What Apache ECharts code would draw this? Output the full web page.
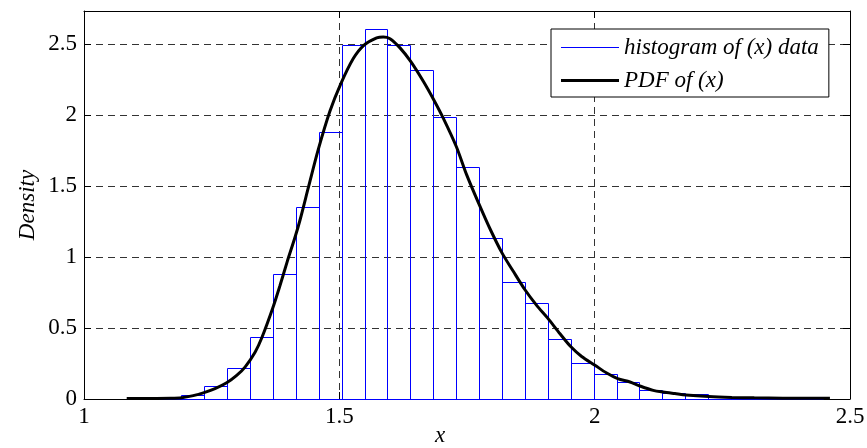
<!DOCTYPE html>
<html><head><meta charset="utf-8">
<script src="https://cdn.jsdelivr.net/npm/echarts@6/dist/echarts.min.js"></script>
<style>html,body{margin:0;padding:0;background:#fff}#c{width:867px;height:448px}</style>
</head><body><div id="c"></div>
<script>
// histogram bin edges (x) and densities
const binEdges = [1.1006, 1.1454, 1.1903, 1.2352, 1.2800, 1.3249, 1.3698, 1.4147, 1.4595, 1.5044,
  1.5493, 1.5941, 1.6390, 1.6839, 1.7287, 1.7736, 1.8185, 1.8634, 1.9082, 1.9531,
  1.9980, 2.0428, 2.0877, 2.1326, 2.1775, 2.2223, 2.2672, 2.3121, 2.3569, 2.4018, 2.4467];
const binHeights = [0, 0.004, 0.03, 0.09, 0.218, 0.435, 0.878, 1.355, 1.884, 2.498,
  2.605, 2.498, 2.316, 1.986, 1.637, 1.136, 0.826, 0.677, 0.426, 0.257,
  0.176, 0.117, 0.061, 0.04, 0.032, 0.019, 0.017, 0.01, 0.005, 0.004];
// estimated PDF curve
const pdfX = [1.0836, 1.1292, 1.1700, 1.1913, 1.2140, 1.2336, 1.2565, 1.2794, 1.2990, 1.3153,
  1.3350, 1.3480, 1.3695, 1.3838, 1.3981, 1.4132, 1.4229, 1.4400, 1.4588, 1.4817,
  1.5026, 1.5273, 1.5469, 1.5731, 1.5861, 1.5992, 1.6188, 1.6397, 1.6644, 1.6848,
  1.7035, 1.7290, 1.7494, 1.7740, 1.7950, 1.8185, 1.8406, 1.8635, 1.8864, 1.9080,
  1.9321, 1.9530, 1.9745, 2.0006, 2.0235, 2.0450, 2.0691, 2.0901, 2.1147, 2.1343,
  2.1572, 2.1788, 2.2232, 2.2683, 2.3125, 2.3687, 2.4607];
const pdfY = [0.004, 0.004, 0.005, 0.009, 0.024, 0.043, 0.073, 0.114, 0.166, 0.225,
  0.33, 0.43, 0.64, 0.80, 0.97, 1.14, 1.26, 1.50, 1.76, 2.03,
  2.22, 2.40, 2.49, 2.545, 2.552, 2.54, 2.475, 2.38, 2.24, 2.11,
  1.98, 1.78, 1.58, 1.37, 1.20, 1.03, 0.90, 0.77, 0.66, 0.57,
  0.46, 0.37, 0.30, 0.238, 0.183, 0.144, 0.12, 0.09, 0.061, 0.049,
  0.038, 0.028, 0.017, 0.011, 0.008, 0.006, 0.005];
const xRange = [1, 2.5];
const yRange = [0, 2.735];
const tickStep = 0.5;
const histName = 'histogram of (x) data';
const pdfName = 'PDF of (x)';

const FONT = 'Liberation Serif';
const FS = 23;
const histData = binHeights.map((h, i) => [binEdges[i], binEdges[i + 1], h]);
const pdfData = pdfX.map((x, i) => [x, pdfY[i]]);
const dashed = { type: [7, 5], color: '#333', width: 1 };
const tickIn = { show: true, inside: true, length: 7, lineStyle: { color: '#000' } };
const axisLine = { show: true, onZero: false, lineStyle: { color: '#000', width: 1 } };
const labelStyle = { fontFamily: FONT, fontSize: FS, color: '#000' };
const italic = { fontFamily: FONT, fontStyle: 'italic', fontSize: FS, color: '#000' };

const chart = echarts.init(document.getElementById('c'), null, { renderer: 'canvas' });
chart.setOption({
  backgroundColor: '#fff',
  animation: false,
  grid: { left: 84, right: 17, top: 11, bottom: 49, containLabel: false, outerBoundsMode: 'none' },
  xAxis: [{
    type: 'value', min: xRange[0], max: xRange[1], interval: tickStep, position: 'bottom',
    axisLine, axisTick: tickIn,
    axisLabel: Object.assign({ margin: 6 }, labelStyle),
    splitLine: { show: true, lineStyle: dashed },
    name: 'x', nameLocation: 'middle', nameGap: 25, nameMoveOverlap: false,
    nameTextStyle: Object.assign({ padding: [0, 54, 0, 0] }, italic)
  }, {
    type: 'value', min: xRange[0], max: xRange[1], interval: tickStep, position: 'top',
    axisLine, axisTick: tickIn, axisLabel: { show: false }, splitLine: { show: false }
  }],
  yAxis: [{
    type: 'value', min: yRange[0], max: yRange[1], interval: tickStep, position: 'left',
    axisLine, axisTick: tickIn,
    axisLabel: Object.assign({ margin: 7, showMaxLabel: false }, labelStyle),
    splitLine: { show: true, lineStyle: dashed },
    name: 'Density', nameLocation: 'middle', nameGap: 45, nameMoveOverlap: false,
    nameTextStyle: italic
  }, {
    type: 'value', min: yRange[0], max: yRange[1], interval: tickStep, position: 'right',
    axisLine, axisTick: tickIn, axisLabel: { show: false }, splitLine: { show: false }
  }],
  legend: [{
    data: [{ name: histName, icon: 'rect' }],
    left: 551, top: 29, orient: 'vertical', selectedMode: false,
    itemWidth: 58, itemHeight: 1,
    padding: [7, 10, 38, 10],
    borderColor: '#000', borderWidth: 1, backgroundColor: '#fff', borderRadius: 0,
    itemStyle: { color: '#0000ff' },
    textStyle: italic
  }, {
    data: [{ name: pdfName, icon: 'rect' }],
    left: 561, top: 69, orient: 'vertical', selectedMode: false,
    itemWidth: 58, itemHeight: 3, padding: 0,
    itemStyle: { color: '#000' },
    textStyle: italic
  }],
  series: [{
    name: histName, type: 'custom', data: histData,
    itemStyle: { color: '#0000ff', borderColor: '#0000ff' },
    emphasis: { disabled: true },
    encode: { x: [0, 1], y: 2 },
    z: 2,
    renderItem: function (params, api) {
      const h = api.value(2);
      if (!(h > 0)) return null;
      const p0 = api.coord([api.value(0), h]);
      const p1 = api.coord([api.value(1), 0]);
      const x0 = Math.round(p0[0]) + 0.5, x1 = Math.round(p1[0]) + 0.5;
      const y0 = Math.round(p0[1]) + 0.5, y1 = Math.round(p1[1]) + 0.5;
      return { type: 'rect', silent: true,
        shape: { x: x0, y: y0, width: x1 - x0, height: y1 - y0 },
        style: { fill: 'rgba(255,255,255,0)', stroke: '#0000ff', lineWidth: 1 } };
    }
  }, {
    name: pdfName, type: 'line', data: pdfData, showSymbol: false, smooth: 0.3,
    itemStyle: { color: '#000' }, emphasis: { disabled: true },
    lineStyle: { color: '#000', width: 3 }, z: 3
  }]
});
</script></body></html>
